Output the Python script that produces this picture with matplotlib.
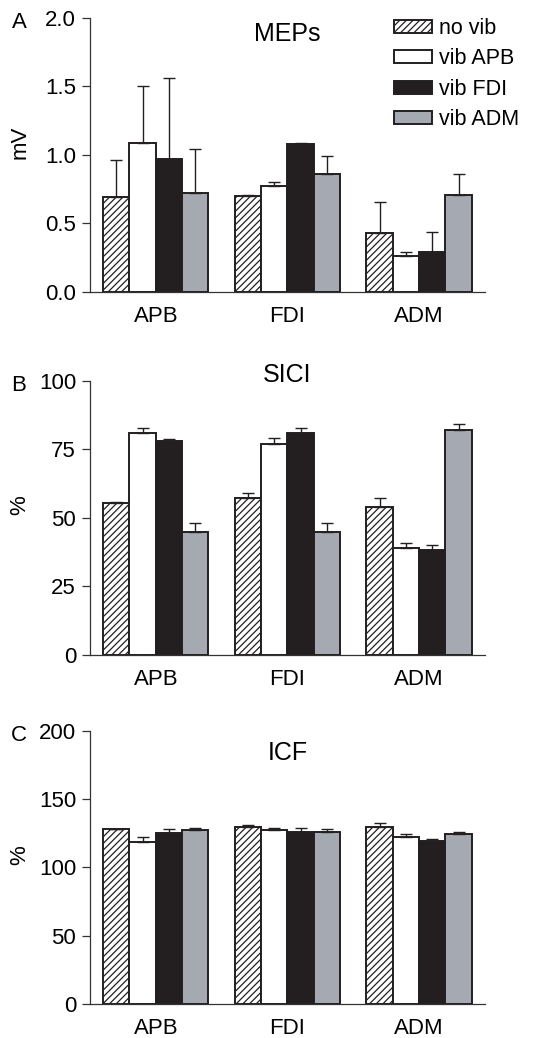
import matplotlib
matplotlib.use('Agg')
import matplotlib.pyplot as plt
import numpy as np

plt.rcParams['font.family'] = ['Liberation Sans', 'DejaVu Sans']
plt.rcParams['hatch.linewidth'] = 0.9

muscles = ['APB', 'FDI', 'ADM']
conditions = ['no vib', 'vib APB', 'vib FDI', 'vib ADM']

# mean values per condition (rows) for each recorded muscle (columns)
mep_mean = [[0.69, 0.70, 0.43],
            [1.09, 0.77, 0.26],
            [0.97, 1.08, 0.29],
            [0.72, 0.86, 0.71]]
mep_err = [[0.27, 0.01, 0.23],
           [0.41, 0.03, 0.03],
           [0.59, 0.01, 0.15],
           [0.32, 0.13, 0.15]]

sici_mean = [[55.2, 57.1, 54.0],
             [81.0, 77.0, 39.1],
             [78.0, 81.0, 38.1],
             [44.9, 44.9, 82.1]]
sici_err = [[0.6, 2.0, 3.1],
            [1.8, 2.2, 1.8],
            [0.8, 1.8, 1.8],
            [3.0, 3.0, 2.0]]

icf_mean = [[128.1, 129.8, 129.8],
            [118.9, 127.2, 122.0],
            [125.2, 126.2, 119.4],
            [127.2, 126.2, 124.2]]
icf_err = [[0.3, 1.0, 3.0],
           [3.1, 1.9, 2.7],
           [2.7, 2.7, 1.2],
           [1.7, 1.7, 1.7]]

dark = '#231f20'
faces = ['white', 'white', dark, '#a5aab2']
hatches = ['/////', None, None, None]

fig = plt.figure(figsize=[5.43, 10.38], dpi=100)
left, width = 0.1657, 0.7274
axA = fig.add_axes([left, 0.7187, width, 0.2640])
axB = fig.add_axes([left, 0.3693, width, 0.2640])
axC = fig.add_axes([left, 0.0325, width, 0.2636])

panels = [
    (axA, mep_mean, mep_err, 'MEPs', 'mV', (0, 2.0), [0, 0.5, 1.0, 1.5, 2.0], '%.1f', 0.916, 'A'),
    (axB, sici_mean, sici_err, 'SICI', '%', (0, 100), [0, 25, 50, 75, 100], '%d', 0.996, 'B'),
    (axC, icf_mean, icf_err, 'ICF', '%', (0, 200), [0, 50, 100, 150, 200], '%d', 0.893, 'C'),
]

x = np.arange(len(muscles))
bw = 0.2
for ax, means, errs, title, ylab, ylim, yt, fmt, ty, letter in panels:
    for i, cond in enumerate(conditions):
        pos = x + (i - 1.5) * bw
        ax.bar(pos, means[i], bw, color=faces[i], edgecolor=dark, linewidth=1.4,
               hatch=hatches[i], label=cond, zorder=2,
               yerr=[np.zeros(len(muscles)), errs[i]],
               error_kw=dict(ecolor=dark, elinewidth=1.0, capsize=4.5, capthick=1.0, zorder=3))
    ax.set_xlim(-0.5, 2.5)
    ax.set_ylim(*ylim)
    ax.set_yticks(yt)
    ax.set_yticklabels([fmt % v for v in yt])
    ax.set_xticks(x)
    ax.set_xticklabels(muscles)
    for s in ['top', 'right']:
        ax.spines[s].set_visible(False)
    for s in ['left', 'bottom']:
        ax.spines[s].set_color('#333333')
        ax.spines[s].set_linewidth(0.9)
    ax.tick_params(axis='y', length=6, width=0.9, color='#333333', pad=4, labelsize=16)
    ax.tick_params(axis='x', length=0, pad=10, labelsize=16)
    ax.set_ylabel(ylab, fontsize=16)
    ax.yaxis.set_label_coords(-0.15, 0.545)
    ax.text(0.5, ty, title, transform=ax.transAxes, ha='center', va='baseline', fontsize=18)
    top = ax.get_position().y1
    fig.text(19 / 543, top - 10 / 1038, letter, ha='center', va='baseline', fontsize=16)

axA.legend(loc='upper left', bbox_to_anchor=(394 / 543, 1 - 18 / 1038),
           bbox_transform=fig.transFigure, frameon=False, fontsize=15.5,
           borderpad=0, borderaxespad=0, handlelength=1.77, handleheight=0.56,
           handletextpad=0.3, labelspacing=0.44)

plt.savefig('out.png', dpi=100)
